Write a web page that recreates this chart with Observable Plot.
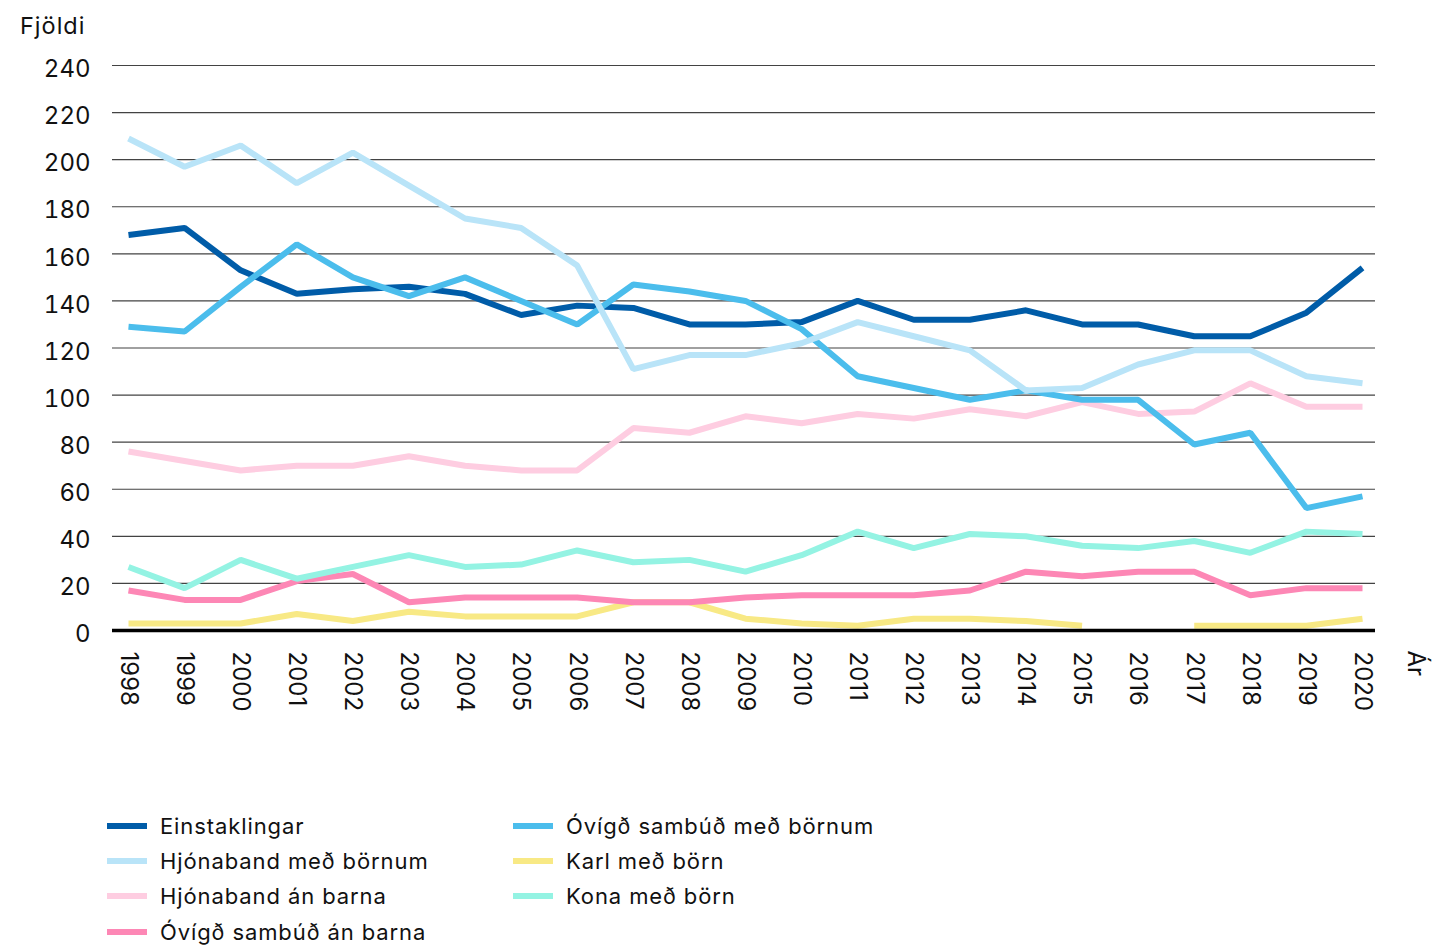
<!DOCTYPE html>
<html>
<head>
<meta charset="utf-8">
<script src="https://cdn.jsdelivr.net/npm/d3@7"></script>
<script src="https://cdn.jsdelivr.net/npm/@observablehq/plot@0.6"></script>
<style>
  html, body { margin: 0; padding: 0; background: #fff; }
  body { width: 1436px; height: 945px; position: relative; overflow: hidden; font-family: Inter, "Noto Sans", sans-serif; color: #111; }
  #ylabel { position: absolute; left: 20px; top: 11px; font-size: 23.5px; letter-spacing: 1px; }
  #chart { position: absolute; left: 0; top: 0; }
  #legend { position: absolute; left: 107px; top: 808px; display: grid; grid-template-columns: 406px 400px; grid-template-rows: repeat(4, 35.3px); grid-auto-flow: column; }
  .item { display: flex; align-items: center; font-size: 22px; letter-spacing: 0.9px; }
  .sw { width: 40px; height: 6px; margin-right: 13px; }
</style>
</head>
<body>
<div id="chart"></div>
<div id="ylabel">Fjöldi</div>
<div id="legend"></div>
<script>
const years = d3.range(1998, 2021);
const yTicks = [0, 20, 40, 60, 80, 100, 120, 140, 160, 180, 200, 220, 240];

const seriesNames = [
  "Einstaklingar",
  "Hjónaband með börnum",
  "Hjónaband án barna",
  "Óvígð sambúð án barna",
  "Óvígð sambúð með börnum",
  "Karl með börn",
  "Kona með börn"
];
const seriesColors = ["#005ca8", "#b9e4f8", "#fecde1", "#fd87b5", "#4bbdec", "#f8e985", "#94f3e3"];

const einstaklingar      = [168, 171, 153, 143, 145, 146, 143, 134, 138, 137, 130, 130, 131, 140, 132, 132, 136, 130, 130, 125, 125, 135, 154];
const hjonabandMedBornum = [209, 197, 206, 190, 203, 189, 175, 171, 155, 111, 117, 117, 122, 131, 125, 119, 102, 103, 113, 119, 119, 108, 105];
const hjonabandAnBarna   = [76, 72, 68, 70, 70, 74, 70, 68, 68, 86, 84, 91, 88, 92, 90, 94, 91, 97, 92, 93, 105, 95, 95];
const ovigdAnBarna       = [17, 13, 13, 21, 24, 12, 14, 14, 14, 12, 12, 14, 15, 15, 15, 17, 25, 23, 25, 25, 15, 18, 18];
const ovigdMedBornum     = [129, 127, 146, 164, 150, 142, 150, 140, 130, 147, 144, 140, 128, 108, 103, 98, 102, 98, 98, 79, 84, 52, 57];
const karlMedBorn        = [3, 3, 3, 7, 4, 8, 6, 6, 6, 12, 12, 5, 3, 2, 5, 5, 4, 2, null, 2, 2, 2, 5];
const konaMedBorn        = [27, 18, 30, 22, 27, 32, 27, 28, 34, 29, 30, 25, 32, 42, 35, 41, 40, 36, 35, 38, 33, 42, 41];

// drawing order (back to front)
const drawOrder = [
  ["Karl með börn", karlMedBorn],
  ["Óvígð sambúð án barna", ovigdAnBarna],
  ["Kona með börn", konaMedBorn],
  ["Hjónaband án barna", hjonabandAnBarna],
  ["Einstaklingar", einstaklingar],
  ["Óvígð sambúð með börnum", ovigdMedBornum],
  ["Hjónaband með börnum", hjonabandMedBornum]
];
const rows = drawOrder.flatMap(([name, vals]) => years.map((yr, i) => ({series: name, year: yr, value: vals[i]})));

const chart = Plot.plot({
  width: 1436,
  height: 760,
  marginLeft: 112,
  marginRight: 61,
  marginTop: 65,
  marginBottom: 130,
  style: {fontFamily: "Inter, 'Noto Sans', sans-serif", fontSize: "23px", color: "#111", background: "transparent"},
  x: {type: "linear", domain: [1998, 2020], insetLeft: 16, insetRight: 13, axis: null},
  y: {domain: [0, 240]},
  color: {domain: seriesNames, range: seriesColors},
  marks: [
    Plot.gridY(yTicks, {stroke: "#222", strokeOpacity: 0.85, strokeWidth: 1.2}),
    Plot.axisY(yTicks, {tickSize: 0, tickPadding: 22, dy: 4, label: null, fontSize: 24, style: {letterSpacing: "2.2px"}}),
    Plot.line(rows, {x: "year", y: "value", z: "series", stroke: "series", strokeWidth: 6, strokeLinejoin: "miter", strokeLinecap: "butt", defined: d => d.value != null}),
    Plot.ruleY([0], {stroke: "#000", strokeWidth: 3.5}),
    Plot.text(years, {x: d => d, y: () => 0, text: d => String(d), rotate: 90, textAnchor: "start", lineAnchor: "middle", dy: 21, fontSize: 24, fill: "#111", style: {letterSpacing: "1.8px"}}),
    Plot.text(["Ár"], {x: () => 2020, y: () => 0, text: d => d, rotate: 90, textAnchor: "start", lineAnchor: "middle", dx: 53, dy: 20, fontSize: 24, fill: "#111"})
  ]
});
document.getElementById("chart").appendChild(chart);

const legend = document.getElementById("legend");
seriesNames.forEach((name, i) => {
  const item = document.createElement("div");
  item.className = "item";
  const sw = document.createElement("span");
  sw.className = "sw";
  sw.style.background = seriesColors[i];
  const t = document.createElement("span");
  t.textContent = name;
  item.appendChild(sw);
  item.appendChild(t);
  legend.appendChild(item);
});
</script>
</body>
</html>
